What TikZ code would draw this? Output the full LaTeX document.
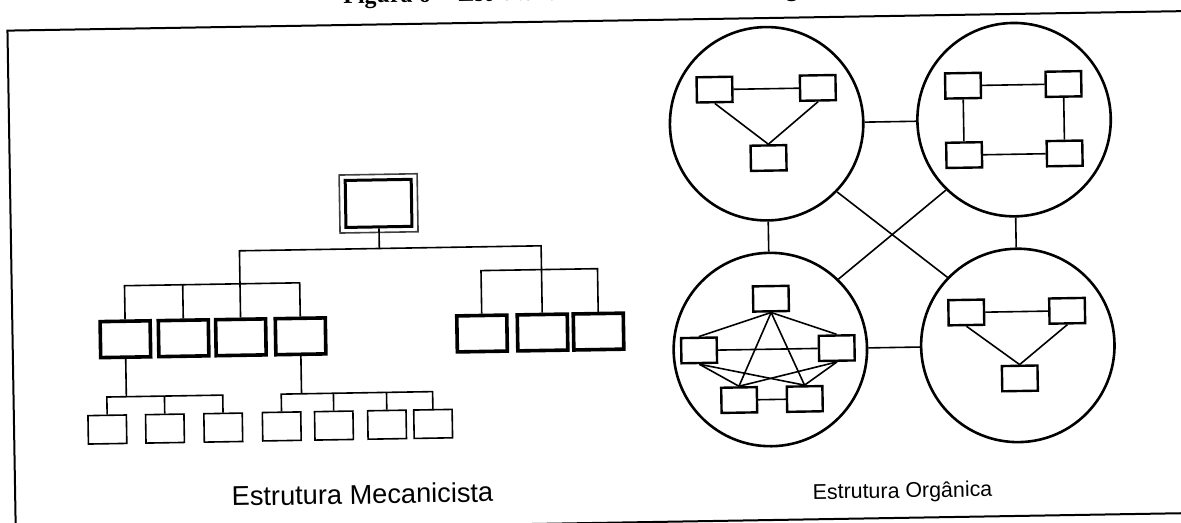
\documentclass[tikz,border=0pt]{standalone}
\usepackage{fontspec}
\setmainfont{Liberation Sans}
\newfontfamily\captionserif{Liberation Serif}
\begin{document}
\begin{tikzpicture}[x=0.5pt,y=-0.5pt,
  link/.style={line width=0.8pt},
  frameline/.style={line width=1pt},
  chief/.style={draw,line width=1.5pt,minimum width=33pt,minimum height=23.5pt,inner sep=0pt},
  unit/.style={draw,line width=1.8pt,minimum width=25pt,minimum height=18pt,inner sep=0pt},
  post/.style={draw,line width=0.8pt,minimum width=19.2pt,minimum height=14.2pt,inner sep=0pt},
  cell/.style={draw,circle,line width=1.3pt,minimum size=96.7pt,inner sep=0pt},
  member/.style={draw,line width=1.2pt,minimum width=17.8pt,minimum height=12.6pt,inner sep=0pt},
]
\useasboundingbox (0,0) rectangle (1181,523);
\clip (0,0) rectangle (1181,523);
\begin{scope}[transform canvas={rotate around={0.95:(590,270)}}]
  % caption above the frame (only its lower edge falls on the page)
  \node[anchor=base west,inner sep=0pt,font=\captionserif\bfseries\fontsize{12}{14}\selectfont]
    (caption) at (347.4,-0.6) {Figura 6 -- Estrutura mecanicista versus orgânica};
  % frame
  \draw[frameline] (11.5,21) rectangle (1220,523);

  % ---------------- mechanistic hierarchy ----------------
  \node[chief] (top) at (379.7,199.9) {};
  \draw[line width=0.8pt,black!75] ([shift={(-2.25pt,2pt)}]top.north west) rectangle ([shift={(2.25pt,-2pt)}]top.south east);

  \node[unit] (B1) at (124.3,331.5) {};
  \node[unit] (B2) at (182.5,331.5) {};
  \node[unit] (B3) at (239.8,331.5) {};
  \node[unit] (B4) at (299.5,331.5) {};
  \node[unit] (R1) at (481,331.7) {};
  \node[unit] (R2) at (541.5,331.7) {};
  \node[unit] (R3) at (597.5,331.7) {};

  \node[post] (S1) at (104.8,421.5) {};
  \node[post] (S2) at (162.4,421.5) {};
  \node[post] (S3) at (220.7,421.5) {};
  \node[post] (S4) at (279.2,421.3) {};
  \node[post] (S5) at (331.4,421.3) {};
  \node[post] (S6) at (384.5,421.3) {};
  \node[post] (S7) at (430.6,421.3) {};

  \coordinate (trunk) at (379.7,245);
  \coordinate (leftrail) at (0,278);
  \coordinate (rightrail) at (0,268.8);
  \coordinate (lowrail) at (0,389);

  \draw[link] (top.south) -- (top.south |- trunk);
  \draw[link] (B3.north) -- (B3.north |- trunk) -- (R2.north |- trunk) -- (R2.north);
  \draw[link] (B1.north) -- (B1.north |- leftrail) -- (B4.north |- leftrail) -- (B4.north);
  \draw[link] (B2.north) -- (B2.north |- leftrail);
  \draw[link] (R1.north) -- (R1.north |- rightrail) -- (R3.north |- rightrail) -- (R3.north);
  \draw[link] (B1.south) -- (B1.south |- lowrail);
  \draw[link] (S1.north) -- (S1.north |- lowrail) -- (S3.north |- lowrail) -- (S3.north);
  \draw[link] (S2.north) -- (S2.north |- lowrail);
  \draw[link] (B4.south) -- (B4.south |- lowrail);
  \draw[link] (S4.north) -- (S4.north |- lowrail) -- (S7.north |- lowrail) -- (S7.north);
  \draw[link] (S5.north) -- (S5.north |- lowrail);
  \draw[link] (S6.north) -- (S6.north |- lowrail);

  \node[anchor=base,inner sep=0pt,font=\fontsize{13.6}{16}\selectfont] (mechlabel) at (358.8,500) {Estrutura Mecanicista};

  % ---------------- organic network ----------------
  \node[cell] (TL) at (769,126.7) {};
  \node[cell] (TR) at (1016.5,126.7) {};
  \node[cell] (BL) at (769,352.5) {};
  \node[cell] (BR) at (1016.5,352.5) {};

  \draw[link] (TL.east) -- (TR.west);
  \draw[link] (BL.east) -- (BR.west);
  \draw[link] (TL.south) -- (BL.north);
  \draw[link] (TR.south) -- (BR.north);
  \draw[link] (TL.-45) -- (BR.135);
  \draw[link] (TR.-135) -- (BL.45);

  % triangle group
  \node[member] (a) at (717.5,91.7) {};
  \node[member] (b) at (820.8,91.7) {};
  \node[member] (c) at (770.4,161) {};
  \draw[link] (a.east) -- (b.west);
  \draw[link] (a.south) -- (c.north);
  \draw[link] (b.south) -- (c.north);

  % square group
  \node[member] (d) at (966,91.9) {};
  \node[member] (e) at (1066.5,91.9) {};
  \node[member] (f) at (966,161.3) {};
  \node[member] (g) at (1066.5,161.3) {};
  \draw[link] (d.east) -- (e.west);
  \draw[link] (f.east) -- (g.west);
  \draw[link] (d.south) -- (f.north);
  \draw[link] (e.south) -- (g.north);

  % fully connected group
  \node[member] (h) at (770.4,301.7) {};
  \node[member] (i) at (697.7,352.2) {};
  \node[member] (j) at (835.4,352.2) {};
  \node[member] (k) at (737,402.5) {};
  \node[member] (l) at (802.6,402.5) {};
  \draw[link] (h.south) -- (i.north);
  \draw[link] (h.south) -- (j.north);
  \draw[link] (h.south) -- (k.north);
  \draw[link] (h.south) -- (l.north);
  \draw[link] (i.east) -- (j.west);
  \draw[link] (k.east) -- (l.west);
  \draw[link] (i.south) -- (k.north);
  \draw[link] (i.south) -- (l.north);
  \draw[link] (j.south) -- (k.north);
  \draw[link] (j.south) -- (l.north);

  % second triangle group
  \node[member] (m) at (965.5,318.7) {};
  \node[member] (n) at (1066.4,318.7) {};
  \node[member] (o) at (1018,385.5) {};
  \draw[link] (m.east) -- (n.west);
  \draw[link] (m.south) -- (o.north);
  \draw[link] (n.south) -- (o.north);

  \node[anchor=base,inner sep=0pt,font=\fontsize{10.7}{13}\selectfont] (orglabel) at (898.8,503) {Estrutura Orgânica};
\end{scope}
\end{tikzpicture}
\end{document}
